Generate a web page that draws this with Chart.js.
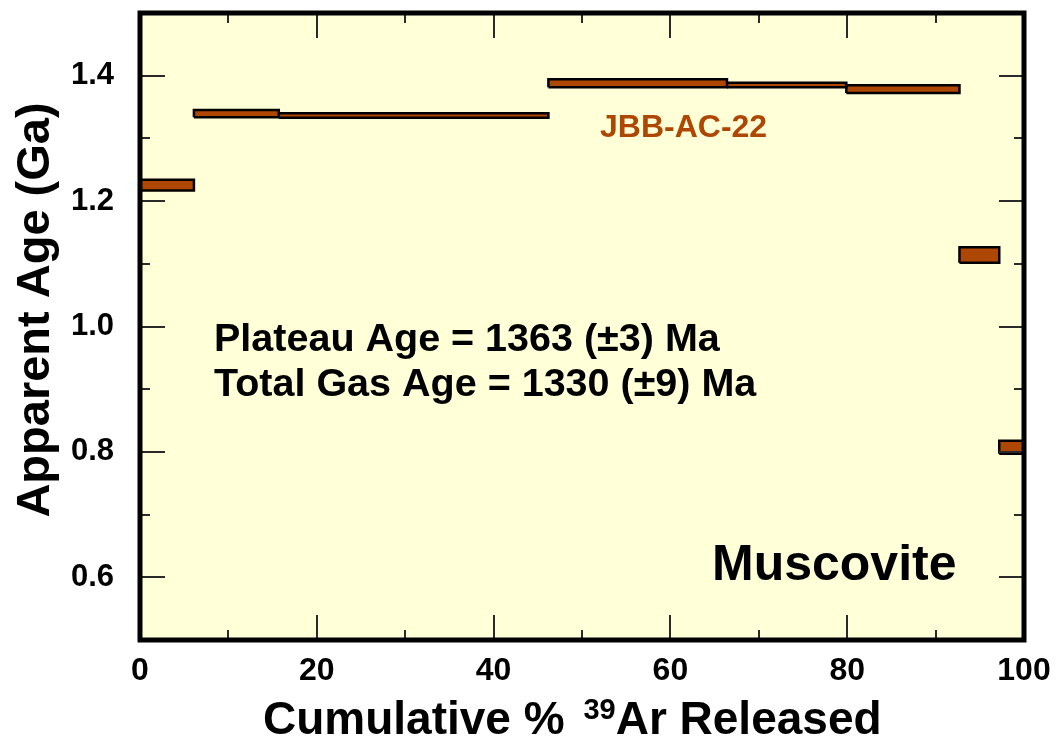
<!DOCTYPE html>
<html>
<head>
<meta charset="utf-8">
<title>Muscovite age spectrum</title>
<script src="https://cdn.jsdelivr.net/npm/chart.js@4.4.1/dist/chart.umd.min.js"></script>
<style>
    html, body { margin: 0; padding: 0; background: #fff; }
</style>
</head>
<body>
<canvas id="spectrumChart" width="1058" height="742"></canvas>
<script>
// heating steps: cumulative % 39Ar at start / end of step, apparent age and error (Ga)
const stepStart = [0, 6.1, 15.7, 46.2, 66.4, 79.9, 92.7, 97.2];
const stepEnd   = [6.1, 15.7, 46.2, 66.4, 79.9, 92.7, 97.2, 100];
const stepAge   = [1.2255, 1.3395, 1.3366, 1.3880, 1.3852, 1.3785, 1.1140, 0.8075];
const stepErr   = [0.0085, 0.0058, 0.0035, 0.0064, 0.0037, 0.0061, 0.0122, 0.0104];

// axis ticks
const xTicks = [0, 20, 40, 60, 80, 100];
const xMinor = [10, 30, 50, 70, 90];
const yTicks = [0.6, 0.8, 1.0, 1.2, 1.4];
const yMinor = [0.7, 0.9, 1.1, 1.3];

// texts
const sampleName = 'JBB-AC-22';
const mineralName = 'Muscovite';
const ageLines = ['Plateau Age = 1363 (\u00B13) Ma', 'Total Gas Age = 1330 (\u00B19) Ma'];
const yTitle = 'Apparent Age (Ga)';

const FONT = '"Liberation Sans", Arial, Helvetica, sans-serif';
const BROWN = '#AE4704';
const PAPER = '#FFFFD8';

Chart.defaults.font.family = FONT;
Chart.defaults.color = '#000';

// one closed box per step, filled with 'shape'
const stepSets = stepAge.map(function(age, i) {
    const lo = age - stepErr[i], hi = age + stepErr[i];
    return {
        data: [
            { x: stepStart[i], y: lo },
            { x: stepEnd[i], y: lo },
            { x: stepEnd[i], y: hi },
            { x: stepStart[i], y: hi },
            { x: stepStart[i], y: lo }
        ],
        fill: 'shape',
        backgroundColor: BROWN,
        borderColor: '#000',
        borderWidth: 2.5,
        borderJoinStyle: 'miter',
        pointRadius: 0,
        tension: 0
    };
});

// paper colour behind the plot
const paperPlugin = {
    id: 'paper',
    beforeDraw(chart) {
        const { ctx, chartArea: a } = chart;
        ctx.save();
        ctx.fillStyle = '#fff';
        ctx.fillRect(0, 0, chart.width, chart.height);
        ctx.fillStyle = PAPER;
        ctx.fillRect(a.left, a.top, a.right - a.left, a.bottom - a.top);
        ctx.restore();
    }
};

// inward ticks on all four sides, thick frame, labels
const framePlugin = {
    id: 'frame',
    afterDatasetsDraw(chart) {
        const { ctx, chartArea: a, scales } = chart;
        const sx = scales.x, sy = scales.y;
        ctx.save();
        ctx.strokeStyle = '#2a2a2a';
        ctx.lineWidth = 2;
        ctx.beginPath();
        function xTick(v, len) {
            const px = Math.round(sx.getPixelForValue(v));
            ctx.moveTo(px, a.bottom); ctx.lineTo(px, a.bottom - len);
            ctx.moveTo(px, a.top); ctx.lineTo(px, a.top + len);
        }
        function yTick(v, len) {
            const py = Math.round(sy.getPixelForValue(v));
            ctx.moveTo(a.left, py); ctx.lineTo(a.left + len, py);
            ctx.moveTo(a.right, py); ctx.lineTo(a.right - len, py);
        }
        xTicks.forEach(v => xTick(v, 25));
        xMinor.forEach(v => xTick(v, 10));
        yTicks.forEach(v => yTick(v, 25));
        yMinor.forEach(v => yTick(v, 10));
        ctx.stroke();

        ctx.strokeStyle = '#000';
        ctx.lineWidth = 5;
        ctx.strokeRect(a.left, a.top, a.right - a.left, a.bottom - a.top);

        // annotations
        ctx.textBaseline = 'alphabetic';
        ctx.textAlign = 'left';
        ctx.fillStyle = BROWN;
        ctx.font = 'bold 32px ' + FONT;
        ctx.fillText(sampleName, 600, 137);

        ctx.fillStyle = '#000';
        ctx.font = 'bold 39.5px ' + FONT;
        ctx.fillText(ageLines[0], 214, 351);
        ctx.fillText(ageLines[1], 214, 396);

        ctx.font = 'bold 50px ' + FONT;
        ctx.fillText(mineralName, 712, 580);

        // y title
        ctx.save();
        ctx.translate(49, 310);
        ctx.rotate(-Math.PI / 2);
        ctx.textAlign = 'center';
        ctx.font = 'bold 47px ' + FONT;
        ctx.fillText(yTitle, 0, 0);
        ctx.restore();

        // x title with superscript 39
        const partA = 'Cumulative % ', sup = '39', partB = 'Ar Released';
        const big = 'bold 46px ' + FONT, small = 'bold 29px ' + FONT;
        let x = 263;
        const base = 734;
        ctx.font = big;
        ctx.fillText(partA, x, base);
        x += ctx.measureText(partA).width + 6;
        ctx.font = small;
        ctx.fillText(sup, x, base - 15);
        x += ctx.measureText(sup).width;
        ctx.font = big;
        ctx.fillText(partB, x, base);
        ctx.restore();
    }
};

new Chart(document.getElementById('spectrumChart').getContext('2d'), {
    type: 'line',
    data: { datasets: stepSets },
    options: {
        responsive: false,
        animation: false,
        devicePixelRatio: 1,
        events: [],
        layout: { padding: { top: 13, right: 34, bottom: 0, left: 0 } },
        plugins: {
            legend: { display: false },
            tooltip: { enabled: false }
        },
        scales: {
            x: {
                type: 'linear',
                min: 0,
                max: 100,
                afterBuildTicks: s => { s.ticks = xTicks.map(v => ({ value: v })); },
                afterFit: s => { s.height = 102; s.paddingLeft = 0; s.paddingRight = 0; },
                grid: { display: false, drawTicks: false },
                border: { display: false },
                ticks: {
                    autoSkip: false,
                    maxRotation: 0,
                    padding: 12,
                    color: '#000',
                    font: { size: 32, weight: 'bold' },
                    callback: v => String(v)
                }
            },
            y: {
                type: 'linear',
                min: 0.5,
                max: 1.5,
                afterBuildTicks: s => { s.ticks = yTicks.map(v => ({ value: v })); },
                afterFit: s => { s.width = 140; s.paddingTop = 0; s.paddingBottom = 0; },
                grid: { display: false, drawTicks: false },
                border: { display: false },
                ticks: {
                    padding: 26,
                    color: '#000',
                    font: { size: 31, weight: 'bold' },
                    callback: v => Number(v).toFixed(1)
                }
            }
        }
    },
    plugins: [paperPlugin, framePlugin]
});
</script>
</body>
</html>
